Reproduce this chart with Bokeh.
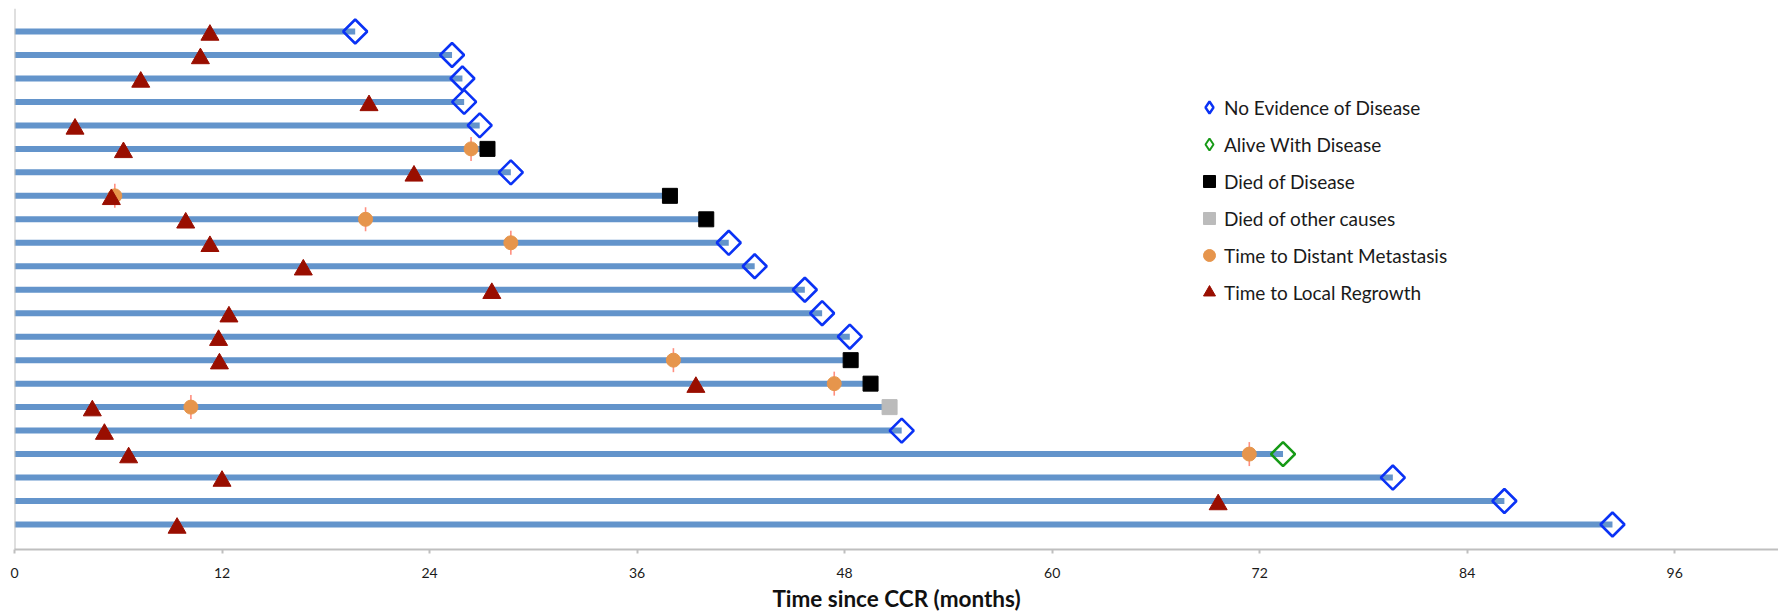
import numpy as np
from bokeh.plotting import figure
from bokeh.models import Range1d, FixedTicker, Span, ColumnDataSource, Legend, LegendItem
from bokeh.transform import dodge
from bokeh.embed import file_html
from bokeh.resources import INLINE

# ---------------- data (months since CCR), rows top -> bottom ----------------
patient_row = list(range(1, 23))
followup_months = [19.7, 25.3, 25.9, 26.0, 26.9, 27.35, 28.7, 37.9, 40.0, 41.3, 42.8,
                   45.7, 46.7, 48.3, 48.35, 49.5, 50.6, 51.3, 73.35, 79.7, 86.15, 92.4]
status = ["NED", "NED", "NED", "NED", "NED", "DOD", "NED", "DOD", "DOD", "NED", "NED",
          "NED", "NED", "NED", "DOD", "DOD", "DOC", "NED", "AWD", "NED", "NED", "NED"]
local_regrowth_months = [11.3, 10.75, 7.3, 20.5, 3.5, 6.3, 23.1, 5.6, 9.9, 11.3, 16.7,
                         27.6, 12.4, 11.8, 11.85, 39.4, 4.5, 5.2, 6.6, 12.0, 69.6, 9.4]
metastasis_rows = [6, 8, 9, 10, 15, 16, 17, 19]
metastasis_months = [26.4, 5.8, 20.3, 28.7, 38.1, 47.4, 10.2, 71.4]
x_ticks = [0, 12, 24, 36, 48, 60, 72, 84, 96]
status_labels = {"NED": "No Evidence of Disease", "AWD": "Alive With Disease",
                 "DOD": "Died of Disease", "DOC": "Died of other causes"}
metastasis_label = "Time to Distant Metastasis"
regrowth_label = "Time to Local Regrowth"
x_title = "Time since CCR (months)"

FONT = "Lato"
NED_BLUE = "#0A32F5"
AWD_GREEN = "#169A16"

p = figure(frame_width=1764, frame_height=541,
           x_range=Range1d(0, 102.0), y_range=Range1d(23.065, 0.02),
           output_backend="svg", toolbar_location=None,
           min_border_left=14, min_border_right=0, min_border_top=8, min_border_bottom=0)
p.outline_line_color = None
p.xgrid.visible = False
p.ygrid.visible = False
p.yaxis.visible = False
p.background_fill_color = "white"
p.border_fill_color = "white"

# follow-up lines
lines_src = ColumnDataSource(dict(row=patient_row, end=followup_months,
                                  start=[0] * len(patient_row)))
p.segment(x0="start", y0="row", x1="end", y1="row", source=lines_src,
          line_color="#6394CB", line_width=6, line_cap="butt")

p.add_layout(Span(location=0, dimension="height", line_color="#BFBFBF", line_width=2))

def pick(code):
    xs = [f for f, s in zip(followup_months, status) if s == code]
    ys = [r for r, s in zip(patient_row, status) if s == code]
    return ColumnDataSource(dict(x=xs, y=ys))

p.scatter(x="x", y="y", source=pick("NED"), marker="square", angle=np.pi / 4,
          size=17, fill_color=None, line_color=NED_BLUE, line_width=2.6)
p.scatter(x="x", y="y", source=pick("AWD"), marker="square", angle=np.pi / 4,
          size=17, fill_color=None, line_color=AWD_GREEN, line_width=2.6)
r_dod = p.scatter(x="x", y="y", source=pick("DOD"), marker="square", size=15,
                  fill_color="black", line_color="black")
r_doc = p.scatter(x="x", y="y", source=pick("DOC"), marker="square", size=15,
                  fill_color="#BBBBBB", line_color="#BBBBBB")

# legend-only diamond renderers (a single off-chart NaN point, never drawn)
def legend_src():
    return ColumnDataSource(dict(x=np.array([np.nan]), y=np.array([np.nan])))

r_ned_leg = p.scatter(x="x", y="y", source=legend_src(), marker="diamond",
                      fill_color=None, line_color=NED_BLUE, line_width=2.4)
r_awd_leg = p.scatter(x="x", y="y", source=legend_src(), marker="diamond",
                      fill_color=None, line_color=AWD_GREEN, line_width=2.0)

met_src = ColumnDataSource(dict(x=metastasis_months, y=metastasis_rows))
p.scatter(x="x", y="y", source=met_src, marker="dash", angle=np.pi / 2, size=24,
          line_color="#FF8F80", line_width=1.6)
r_met = p.scatter(x="x", y="y", source=met_src, marker="circle", size=14,
                  fill_color="#E6954C", line_color="#E6954C")

reg_src = ColumnDataSource(dict(x=local_regrowth_months, y=patient_row))
r_reg = p.scatter(x="x", y=dodge("y", 0.15, range=p.y_range), source=reg_src,
                  marker="triangle", size=18, fill_color="#990E00", line_color="#990E00")

legend = Legend(items=[
    LegendItem(label=status_labels["NED"], renderers=[r_ned_leg]),
    LegendItem(label=status_labels["AWD"], renderers=[r_awd_leg]),
    LegendItem(label=status_labels["DOD"], renderers=[r_dod]),
    LegendItem(label=status_labels["DOC"], renderers=[r_doc]),
    LegendItem(label=metastasis_label, renderers=[r_met]),
    LegendItem(label=regrowth_label, renderers=[r_reg]),
], location=(1180, 242), glyph_width=30, glyph_height=30, spacing=7,
    label_standoff=0, padding=0, margin=0, border_line_color=None,
    background_fill_alpha=0, label_text_font=FONT, label_text_font_size="19px",
    label_text_color="#1A1A1A")
p.add_layout(legend)

ax = p.xaxis[0]
ax.ticker = FixedTicker(ticks=x_ticks)
ax.axis_line_color = "#BFBFBF"
ax.axis_line_width = 2
ax.major_tick_line_color = "#BFBFBF"
ax.major_tick_line_width = 2
ax.major_tick_out = 4
ax.major_tick_in = 0
ax.minor_tick_line_color = None
ax.major_label_text_font = FONT
ax.major_label_text_font_size = "14px"
ax.major_label_text_color = "#1A1A1A"
ax.major_label_standoff = 14
ax.axis_label = x_title
ax.axis_label_text_font = FONT
ax.axis_label_text_font_style = "bold"
ax.axis_label_text_font_size = "22.5px"
ax.axis_label_text_color = "#111111"
ax.axis_label_standoff = 4

open("out.html", "w").write(file_html(p, INLINE))
